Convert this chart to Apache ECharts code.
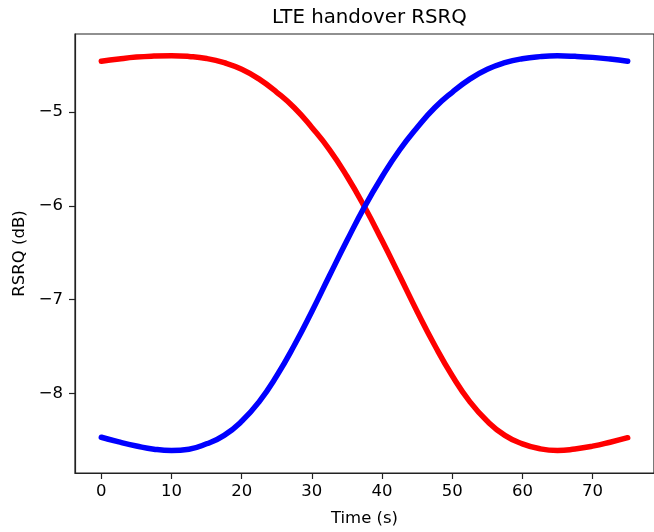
<!DOCTYPE html>
<html>
<head>
<meta charset="utf-8">
<script src="https://cdn.jsdelivr.net/npm/echarts@6/dist/echarts.min.js"></script>
<style>
html,body{margin:0;padding:0;background:#fff;}
#chart{width:654px;height:532px;}
</style>
</head>
<body>
<div id="chart"></div>
<script>
// Time stamps (s)
var times = [0, 2.5, 5, 7.5, 10, 12.5, 15, 17.5, 20, 22.5, 25, 27.5, 30, 32.5, 35, 37.5, 40, 42.5, 45, 47.5, 50, 52.5, 55, 57.5, 60, 62.5, 65, 67.5, 70, 72.5, 75];
// Serving cell RSRQ (red), dB
var redRSRQ = [-4.460, -4.435, -4.415, -4.404, -4.400, -4.408, -4.430, -4.475, -4.545, -4.650, -4.790, -4.955, -5.165, -5.400, -5.685, -6.010, -6.370, -6.745, -7.125, -7.485, -7.810, -8.085, -8.295, -8.445, -8.535, -8.588, -8.606, -8.590, -8.560, -8.518, -8.470];
// Target cell RSRQ (blue), dB
var blueRSRQ = [-8.465, -8.515, -8.558, -8.592, -8.606, -8.592, -8.535, -8.445, -8.295, -8.085, -7.810, -7.485, -7.125, -6.745, -6.370, -6.010, -5.690, -5.405, -5.165, -4.955, -4.790, -4.650, -4.545, -4.475, -4.432, -4.410, -4.402, -4.407, -4.418, -4.436, -4.460];
// Tick labels
var xTicks = [0, 10, 20, 30, 40, 50, 60, 70];
var yTicks = [-8, -7, -6, -5];

function pairs(xs, ys) {
  var out = [];
  for (var i = 0; i < xs.length; i++) out.push([xs[i], ys[i]]);
  return out;
}
function fmt(v) {
  return v < 0 ? '\u2212' + Math.abs(v) : String(v);
}

var FONT = '"DejaVu Sans", sans-serif';
var FS = 16.5;
var chart = echarts.init(document.getElementById('chart'), null, {renderer: 'canvas'});
chart.setOption({
  animation: false,
  backgroundColor: '#ffffff',
  title: {
    text: 'LTE handover RSRQ',
    left: 272,
    top: 8,
    padding: 0,
    textStyle: {fontFamily: FONT, fontSize: 19.8, fontWeight: 'normal', color: '#000'}
  },
  grid: {
    left: 75, right: -11, top: 34, bottom: 57, containLabel: false,
    show: true, borderColor: '#222', borderWidth: 1.2, backgroundColor: 'transparent'
  },
  xAxis: {
    type: 'value',
    min: -3.75,
    max: 78.75,
    name: 'Time (s)',
    nameLocation: 'middle',
    nameGap: 37,
    nameTextStyle: {fontFamily: FONT, fontSize: FS, color: '#000'},
    axisLine: {show: true, onZero: false, lineStyle: {color: '#222', width: 1.2}},
    axisTick: {show: true, inside: false, length: 6, customValues: xTicks, lineStyle: {color: '#222', width: 1.2}},
    axisLabel: {show: true, margin: 10, customValues: xTicks, formatter: fmt, fontFamily: FONT, fontSize: FS, color: '#000'},
    splitLine: {show: false}
  },
  yAxis: {
    type: 'value',
    min: -8.846,
    max: -4.169,
    name: 'RSRQ (dB)',
    nameLocation: 'middle',
    nameGap: 38,
    nameRotate: 90,
    nameTextStyle: {fontFamily: FONT, fontSize: FS, color: '#000'},
    axisLine: {show: true, onZero: false, lineStyle: {color: '#222', width: 1.2}},
    axisTick: {show: true, inside: false, length: 6, customValues: yTicks, lineStyle: {color: '#222', width: 1.2}},
    axisLabel: {show: true, margin: 12, customValues: yTicks, formatter: fmt, fontFamily: FONT, fontSize: FS, color: '#000'},
    splitLine: {show: false}
  },
  series: [
    {
      name: 'Serving',
      type: 'line',
      data: pairs(times, redRSRQ),
      smooth: true,
      showSymbol: false,
      lineStyle: {color: '#ff0000', width: 5.5, cap: 'round', join: 'round'},
      itemStyle: {color: '#ff0000'},
      z: 2
    },
    {
      name: 'Target',
      type: 'line',
      data: pairs(times, blueRSRQ),
      smooth: true,
      showSymbol: false,
      lineStyle: {color: '#0000ff', width: 5.5, cap: 'round', join: 'round'},
      itemStyle: {color: '#0000ff'},
      z: 3
    }
  ]
});
</script>
</body>
</html>
